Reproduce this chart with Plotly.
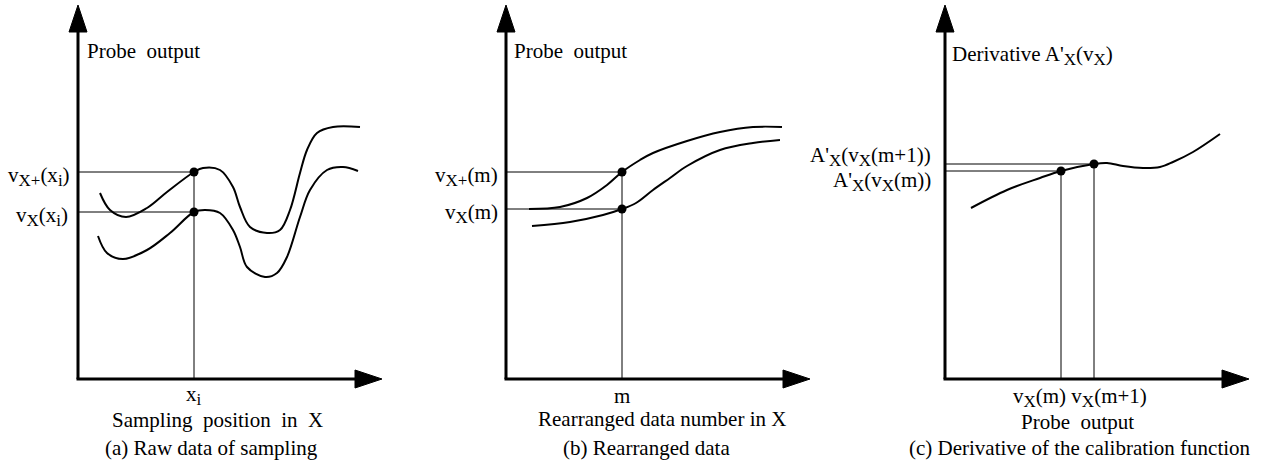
import plotly.graph_objects as go

W, H = 1266, 461
FONT = "Liberation Serif"
FS = 21
SUB_FS = 17
SP = "\u00a0 "  # wide word gap used in some captions

# ---- panel (a): raw data of sampling (probe output vs sampling position) ----
a_plus_x = [22, 32, 48, 69, 89, 116, 125, 142, 155, 162, 172, 189, 202, 212, 222, 229, 239, 255, 282]
a_plus_y = [186, 169, 162, 171, 187, 207, 211, 209, 192, 172, 152, 146, 149, 169, 206, 229, 246, 252, 252]
a_minus_x = [20, 29, 45, 69, 92, 116, 127, 142, 155, 162, 169, 187, 199, 209, 222, 232, 249, 265, 280]
a_minus_y = [143, 126, 120, 129, 146, 167, 169, 166, 149, 132, 112, 102, 106, 122, 162, 189, 209, 212, 208]
a_idx = 5  # sample x_i

# ---- panel (b): rearranged data ----
b_plus_x = [23, 54, 81, 101, 116, 134, 147, 181, 214, 247, 276]
b_plus_y = [170, 172, 181, 194, 207, 219, 226, 238, 247, 252, 252]
b_minus_x = [26, 64, 97, 116, 130, 147, 164, 181, 214, 247, 274]
b_minus_y = [153, 157, 164, 170, 176, 189, 201, 213, 229, 236, 239]
b_plus_idx, b_minus_idx = 4, 3  # data number m

# ---- panel (c): derivative of the calibration function ----
c_x = [26, 62, 95, 116, 149, 162, 178, 198, 215, 228, 248, 275]
c_y = [171, 189, 201, 208, 215, 216, 213, 211, 212, 217, 227, 245]
c_idx_m, c_idx_m1 = 3, 4  # v_X(m), v_X(m+1)

# axis geometry (panel-local units)
AX_LEN_X, AX_LEN_Y = 304, 374
HEAD_LEN, HEAD_HALF = 27, 9

fig = go.Figure()
shapes, annotations = [], []


def sub(s):
    return f"<sub><span style='font-size:{SUB_FS}px'>{s}</span></sub>"


def add_axes(xr, yr):
    # thick axes with filled arrowheads
    shapes.append(dict(type="line", xref=xr, yref=yr, x0=0, y0=0, x1=0, y1=AX_LEN_Y - HEAD_LEN + 2,
                       line=dict(color="black", width=3)))
    shapes.append(dict(type="line", xref=xr, yref=yr, x0=-1.5, y0=0, x1=AX_LEN_X - HEAD_LEN + 2, y1=0,
                       line=dict(color="black", width=3)))
    ty, by = AX_LEN_Y, AX_LEN_Y - HEAD_LEN
    shapes.append(dict(type="path", xref=xr, yref=yr,
                       path=f"M {-HEAD_HALF},{by} L 0,{ty} L {HEAD_HALF},{by} Z",
                       fillcolor="black", line=dict(color="black", width=1)))
    tx, bx = AX_LEN_X, AX_LEN_X - HEAD_LEN
    shapes.append(dict(type="path", xref=xr, yref=yr,
                       path=f"M {bx},{-HEAD_HALF} L {tx},0 L {bx},{HEAD_HALF} Z",
                       fillcolor="black", line=dict(color="black", width=1)))


def curve(x, y, xa, ya):
    fig.add_trace(go.Scatter(x=x, y=y, mode="lines", xaxis=xa, yaxis=ya,
                             line=dict(color="black", width=2, shape="spline", smoothing=1.0),
                             hoverinfo="skip", showlegend=False))


def guides(px, py, xa, ya, horiz=True, vert=True):
    if horiz:
        fig.add_trace(go.Scatter(x=[0, px], y=[py, py], mode="lines", xaxis=xa, yaxis=ya,
                                 line=dict(color="black", width=1), hoverinfo="skip", showlegend=False))
    if vert:
        fig.add_trace(go.Scatter(x=[px, px], y=[py, 0], mode="lines", xaxis=xa, yaxis=ya,
                                 line=dict(color="black", width=1), hoverinfo="skip", showlegend=False))


def dots(xs, ys, xa, ya):
    fig.add_trace(go.Scatter(x=xs, y=ys, mode="markers", xaxis=xa, yaxis=ya,
                             marker=dict(color="black", size=9), hoverinfo="skip", showlegend=False))


def text(s, x, y, xr, yr, xanchor="center", yanchor="middle", yshift=0):
    annotations.append(dict(text=s, x=x, y=y, xref=xr, yref=yr, showarrow=False,
                            xanchor=xanchor, yanchor=yanchor, yshift=yshift,
                            font=dict(family=FONT, size=FS, color="black")))


# panel (a)
add_axes("x", "y")
xi = a_plus_x[a_idx]
vp, vm = a_plus_y[a_idx], a_minus_y[a_idx]
guides(xi, vp, "x", "y")
guides(xi, vm, "x", "y", vert=False)
curve(a_plus_x, a_plus_y, "x", "y")
curve(a_minus_x, a_minus_y, "x", "y")
dots([xi, xi], [vp, vm], "x", "y")
text(f"Probe{SP}output", 7, 328, "x", "y", xanchor="left")
text(f"v{sub('X+')}(x{sub('i')})", -6, vp, "x", "y", xanchor="right", yshift=-4)
text(f"v{sub('X')}(x{sub('i')})", -8, vm, "x", "y", xanchor="right", yshift=-4)
text(f"x{sub('i')}", xi, -17, "x", "y", yshift=1)
text(f"Sampling{SP}position{SP}in{SP}X", 139, -41, "x", "y")
text("(a) Raw data of sampling", 133, -69, "x", "y")

# panel (b)
add_axes("x2", "y2")
m = b_plus_x[b_plus_idx]
bp, bm = b_plus_y[b_plus_idx], b_minus_y[b_minus_idx]
guides(m, bp, "x2", "y2")
guides(m, bm, "x2", "y2", vert=False)
curve(b_plus_x, b_plus_y, "x2", "y2")
curve(b_minus_x, b_minus_y, "x2", "y2")
dots([m, m], [bp, bm], "x2", "y2")
text(f"Probe{SP}output", 6, 328, "x2", "y2", xanchor="left")
text(f"v{sub('X+')}(m)", -6, bp, "x2", "y2", xanchor="right", yshift=-4)
text(f"v{sub('X')}(m)", -6, bm, "x2", "y2", xanchor="right", yshift=-4)
text("m", m, -17, "x2", "y2")
text("Rearranged data number in X", 156, -40, "x2", "y2")
text("(b) Rearranged data", 140, -69, "x2", "y2")

# panel (c)
add_axes("x3", "y3")
x_m, y_m = c_x[c_idx_m], c_y[c_idx_m]
x_m1, y_m1 = c_x[c_idx_m1], c_y[c_idx_m1]
guides(x_m, y_m, "x3", "y3")
guides(x_m1, y_m1, "x3", "y3")
curve(c_x, c_y, "x3", "y3")
dots([x_m, x_m1], [y_m, y_m1], "x3", "y3")
text(f"Derivative A'{sub('X')}(v{sub('X')})", 5, 328, "x3", "y3", xanchor="left", yshift=-4)
text(f"A'{sub('X')}(v{sub('X')}(m+1))", -12, 222, "x3", "y3", xanchor="right", yshift=1)
text(f"A'{sub('X')}(v{sub('X')}(m))", -12, 200, "x3", "y3", xanchor="right", yshift=-2)
text(f"v{sub('X')}(m) v{sub('X')}(m+1)", 135, -15, "x3", "y3", yshift=-3)
text(f"Probe{SP}output", 132, -43, "x3", "y3")
text("(c) Derivative of the calibration function", 135, -69, "x3", "y3")

YR = [-82, 379]
hidden = dict(visible=False, fixedrange=True)
fig.update_layout(
    width=W, height=H,
    margin=dict(l=0, r=0, t=0, b=0),
    paper_bgcolor="white", plot_bgcolor="white",
    showlegend=False,
    xaxis=dict(domain=[0, 420 / W], range=[-78, 342], anchor="y", **hidden),
    yaxis=dict(domain=[0, 1], range=YR, anchor="x", **hidden),
    xaxis2=dict(domain=[420 / W, 840 / W], range=[-86, 334], anchor="y2", **hidden),
    yaxis2=dict(domain=[0, 1], range=YR, anchor="x2", **hidden),
    xaxis3=dict(domain=[840 / W, 1], range=[-105, 321], anchor="y3", **hidden),
    yaxis3=dict(domain=[0, 1], range=YR, anchor="x3", **hidden),
    shapes=shapes,
    annotations=annotations,
)

fig.write_html("out.html")
